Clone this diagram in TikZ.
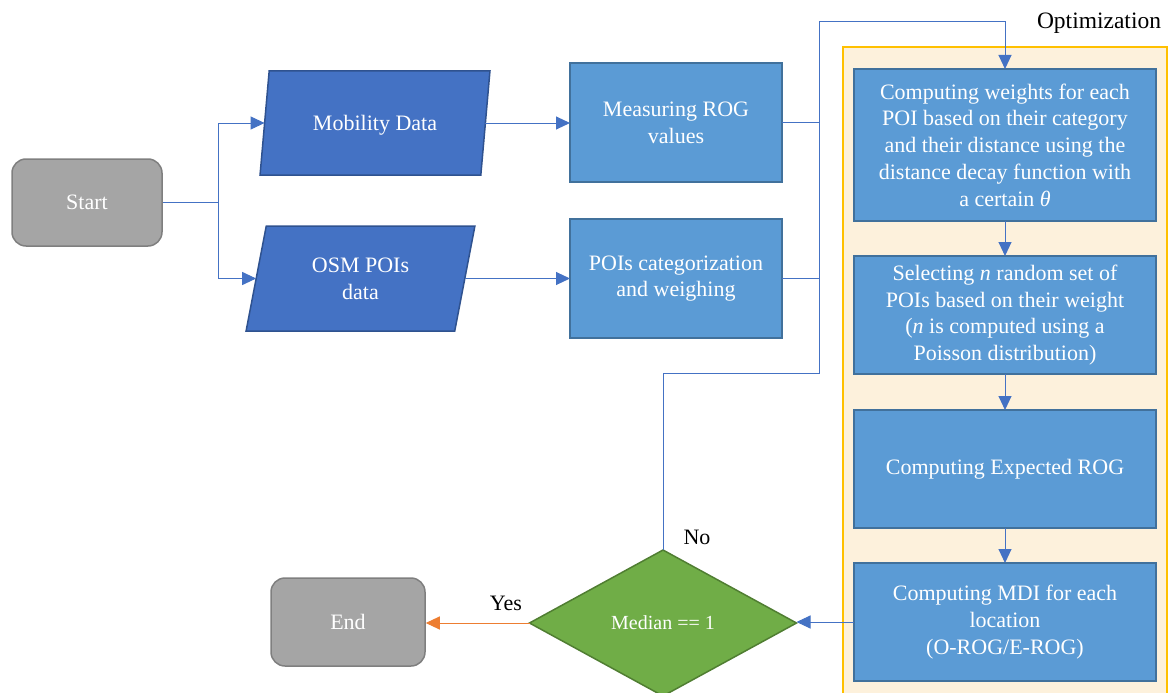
\documentclass[tikz,border=0pt]{standalone}
\usepackage{fontspec}
\setmainfont{Liberation Serif}
\usetikzlibrary{shapes.geometric,arrows.meta}

\definecolor{termfill}{HTML}{A5A5A5}
\definecolor{termline}{HTML}{7F7F7F}
\definecolor{iofill}{HTML}{4472C4}
\definecolor{ioline}{HTML}{2F528F}
\definecolor{procfill}{HTML}{5B9BD5}
\definecolor{procline}{HTML}{41719C}
\definecolor{decfill}{HTML}{70AD47}
\definecolor{decline}{HTML}{507E32}
\definecolor{framefill}{HTML}{FDF1DC}
\definecolor{frameline}{HTML}{FFC000}
\definecolor{linkblue}{HTML}{4472C4}
\definecolor{linkorange}{HTML}{ED7D31}

\begin{document}
\begin{tikzpicture}[x=1pt,y=-1pt,
  txt/.style={font=\fontsize{22}{26.7}\selectfont, text=white, align=center},
  lbl/.style={font=\fontsize{22}{26.7}\selectfont, text=black, inner sep=0pt},
  term/.style={txt, rectangle, rounded corners=14pt, draw=termline, fill=termfill,
    line width=1.5pt, minimum width=150pt, minimum height=87pt},
  io/.style={txt, trapezium, trapezium stretches=true, draw=ioline, fill=iofill,
    line width=1.5pt, inner sep=2pt, outer sep=0pt},
  proc/.style={txt, rectangle, draw=procline, fill=procfill, line width=1.5pt,
    outer sep=0pt},
  decision/.style={diamond, draw=decline, fill=decfill, line width=1.5pt,
    font=\fontsize{20}{24}\selectfont, text=white, inner sep=0pt,
    minimum width=267pt, minimum height=146pt, outer sep=0pt},
  conn/.style={draw=linkblue, line width=1pt},
  arr/.style={conn, -{Triangle[length=14pt,width=13pt]}},
  yesarr/.style={draw=linkorange, line width=1pt, -{Triangle[length=14pt,width=13pt]}}
]
\useasboundingbox (0,0) rectangle (1173,693);
\clip (0,0) rectangle (1173,693);

% optimisation frame
\draw[fill=framefill, draw=frameline, line width=2.5pt] (843,47) rectangle (1167,720);
\node[lbl, font=\fontsize{23.5}{28}\selectfont] (optlabel) at (1099,23) {Optimization};

% terminals
\node[term] (start) at (87,202.5) {Start};
\node[term, minimum width=154pt, minimum height=88pt] (end) at (348,622) {End};

% input data
\node[io, trapezium left angle=74, trapezium right angle=106,
      minimum width=230pt, minimum height=104pt, text depth=-4pt] (mob) at (375,123) {Mobility Data};
\node[io, trapezium left angle=76.6, trapezium right angle=103.4,
      minimum width=229pt, minimum height=105pt] (osm) at (360.5,278.5) {OSM POIs\\data};

% preprocessing
\node[proc, minimum width=212pt, minimum height=119pt] (meas) at (676,122.5) {Measuring ROG\\values};
\node[proc, minimum width=212pt, minimum height=119pt] (poi) at (676,278.5) {POIs categorization\\and weighing};

% optimisation steps
\node[proc, minimum width=302pt, minimum height=152pt] (w) at (1005,145)
  {Computing weights for each\\POI based on their category\\and their distance using the\\distance decay function with\\a certain \textit{θ}};
\node[proc, minimum width=302pt, minimum height=118pt] (sel) at (1005,315)
  {Selecting \textit{n} random set of\\POIs based on their weight\\(\textit{n} is computed using a\\Poisson distribution)};
\node[proc, minimum width=302pt, minimum height=118pt] (exp) at (1005,469)
  {Computing Expected ROG};
\node[proc, minimum width=302pt, minimum height=118pt] (mdi) at (1005,622)
  {Computing MDI for each\\location\\(O-ROG/E-ROG)};

% decision
\node[decision] (dec) at (663,623) {Median == 1};
\node[lbl] (yes) at (506,603) {Yes};
\node[lbl] (no) at (697,537) {No};

% connectors
\coordinate (split) at (218,202.5);
\coordinate (bus) at (819,373);
\coordinate (bustop) at (819,22);

\draw[conn] (start.east) -- (split);
\draw[arr] (split) |- (mob.west);
\draw[arr] (split) |- (osm.west);
\draw[arr] (mob.east) -- (mob.east -| meas.west);
\draw[arr] (osm.east) -- (osm.east -| poi.west);
\draw[conn] (meas.east) -- (meas.east -| bus);
\draw[conn] (poi.east) -- (poi.east -| bus);
\draw[arr] (dec.north) |- (bus) -- (bustop) -| (w.north);
\draw[arr] (w.south) -- (sel.north);
\draw[arr] (sel.south) -- (exp.north);
\draw[arr] (exp.south) -- (mdi.north);
\draw[arr] (mdi.west) -- (mdi.west -| dec.east);
\draw[yesarr] (dec.west) -- (dec.west -| end.east);
\end{tikzpicture}
\end{document}
